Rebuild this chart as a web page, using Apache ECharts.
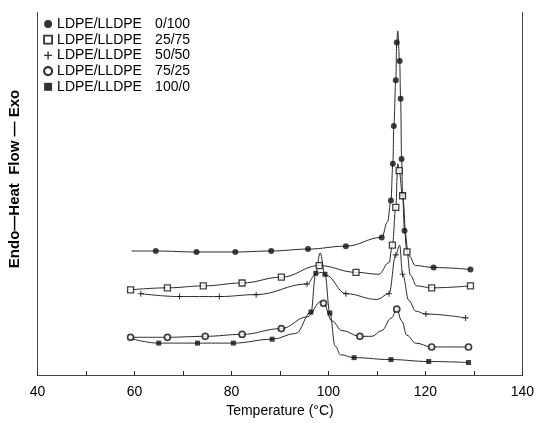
<!DOCTYPE html>
<html><head><meta charset="utf-8">
<script src="https://cdn.jsdelivr.net/npm/echarts@6/dist/echarts.min.js"></script>
<style>html,body{margin:0;padding:0;background:#fff}#c{width:537px;height:423px}</style>
</head><body><div id="c"></div>
<script>
// Legend / series labels
const prefix = 'LDPE/LLDPE';
const ratios = ['0/100', '25/75', '50/50', '75/25', '100/0'];
// Curves: [temperature °C, heat flow (arb. units), marker flag]
const curve_0_100 = [[59.4,128,0],[64.4,128,1],[72.8,127,1],[80.8,127,1],[88.2,128,1],[95.8,130,1],[103.6,133,1],[111.0,142,1],[112.2,158,0],[112.9,180,1],[113.3,218,1],[113.5,257,1],[113.9,304,1],[114.1,343,1],[114.3,355,0],[114.7,324,1],[114.9,285,1],[115.1,223,1],[115.3,186,1],[115.7,149,1],[116.6,123,0],[118.0,113,0],[121.7,111,1],[129.3,109,1]];
const curve_25_75 = [[59.2,88,1],[66.8,90,1],[74.2,92,1],[82.2,95,1],[90.3,101,1],[98.1,113,1],[105.7,106,1],[110.4,104,0],[112.5,116,0],[113.2,134,1],[113.9,173,1],[114.3,218,0],[114.6,211,1],[115.3,185,1],[116.2,127,1],[116.9,103,0],[118.2,92,0],[121.3,90,1],[129.3,92,1]];
const curve_50_50 = [[61.3,84,1],[69.3,81,1],[77.5,81,1],[85.1,83,1],[95.6,94,1],[97.4,104,0],[98.5,106,0],[99.5,103,0],[103.6,84,1],[110.0,78,0],[112.5,84,1],[113.9,124,1],[114.7,134,0],[115.3,104,1],[116.6,77,0],[118.0,66,0],[120.1,63,1],[128.3,59,1]];
const curve_75_25 = [[59.2,39,1],[66.8,39,1],[74.6,40,1],[82.2,42,1],[90.3,48,1],[95.6,60,0],[98.5,76,0],[99.0,74,1],[100.7,56,0],[102.8,46,0],[106.5,40,1],[109.0,40,0],[111.0,46,0],[113.0,59,0],[114.1,68,1],[115.1,56,0],[116.2,41,0],[118.0,33,0],[121.3,29,1],[128.9,29,1]];
const curve_100_0 = [[59.0,38,0],[65.0,33,1],[73.0,33,1],[80.4,33,1],[88.4,37,1],[93.3,43,0],[96.4,65,1],[97.4,105,1],[98.3,126,0],[99.3,104,1],[100.3,64,1],[101.4,30,0],[102.5,21,0],[105.3,18,1],[112.9,16,1],[120.7,14,1],[128.9,13,1]];
const xTickLabels = [40, 60, 80, 100, 120, 140];

const curves = [curve_0_100, curve_25_75, curve_50_50, curve_75_25, curve_100_0];
const plusPath = 'path://M3.3,0h1.4v3.3h3.3v1.4h-3.3v3.3h-1.4v-3.3h-3.3v-1.4h3.3z';
const markerStyles = [
  {symbol:'circle', size:6, item:{color:'#111', borderWidth:0}},
  {symbol:'rect', size:6, item:{color:'#fff', borderColor:'#111', borderWidth:1.3}},
  {symbol:plusPath, size:6, item:{color:'#111', borderWidth:0}},
  {symbol:'circle', size:6, item:{color:'#fff', borderColor:'#111', borderWidth:1.7}},
  {symbol:'rect', size:5, item:{color:'#111', borderWidth:0}}
];
const legendStyles = [
  {icon:'circle', itemStyle:{color:'#000', borderWidth:0}},
  {icon:'rect', itemStyle:{color:'#fff', borderColor:'#000', borderWidth:1.8}},
  {icon:plusPath, itemStyle:{color:'#000', borderWidth:0}},
  {icon:'circle', itemStyle:{color:'#fff', borderColor:'#000', borderWidth:2.2}},
  {icon:'rect', itemStyle:{color:'#000', borderWidth:0}}
];

const names = ratios.map(r => prefix + ' ' + r);
const series = [];
curves.forEach((c, i) => {
  series.push({
    type:'line', name:'curve' + i, data:c.map(p => [p[0], p[1]]),
    smooth:0.4, smoothMonotone:'x', showSymbol:false, symbol:'none',
    lineStyle:{color:'#2a2a2a', width:1}, silent:true, z:2
  });
});
curves.forEach((c, i) => {
  const m = markerStyles[i];
  series.push({
    type:'scatter', name:names[i], data:c.filter(p => p[2] === 1).map(p => [p[0], p[1]]),
    symbol:m.symbol, symbolSize:m.size, itemStyle:m.item, z:3, silent:true
  });
});

const chart = echarts.init(document.getElementById('c'), null, {renderer:'canvas'});
chart.setOption({
  animation:false,
  backgroundColor:'#fff',
  textStyle:{fontFamily:'Liberation Sans, Arial, sans-serif'},
  grid:{left:37.5, right:13, top:12.5, bottom:37},
  legend:{
    orient:'vertical', left:43, top:17, padding:0, itemWidth:8, itemHeight:8, itemGap:1.7,
    itemTextGap:6, selectedMode:false,
    data:names.map((n, i) => Object.assign({name:n}, legendStyles[i])),
    formatter: n => '{a|' + prefix + '}{b|' + n.slice(prefix.length + 1) + '}',
    textStyle:{fontSize:14, color:'#000', lineHeight:14,
      rich:{a:{width:98, fontSize:14, color:'#000'}, b:{fontSize:14, color:'#000'}}}
  },
  xAxis:[{
    type:'value', min:40, max:140, interval:10, position:'bottom',
    name:'Temperature (°C)', nameLocation:'middle', nameGap:25,
    nameTextStyle:{fontSize:14, color:'#000'},
    axisLine:{lineStyle:{color:'#222', width:1}},
    axisTick:{inside:true, length:4, lineStyle:{color:'#222'}},
    axisLabel:{fontSize:14, color:'#000', margin:10,
      formatter: v => xTickLabels.indexOf(v) >= 0 ? String(v) : ''},
    splitLine:{show:false}
  },{
    type:'value', min:40, max:140, position:'top',
    axisLine:{lineStyle:{color:'#444', width:1}}, axisTick:{show:false}, axisLabel:{show:false}, splitLine:{show:false}
  }],
  yAxis:[{
    type:'value', min:0, max:374, position:'left',
    axisLine:{show:true, lineStyle:{color:'#444', width:1}}, axisTick:{show:false}, axisLabel:{show:false}, splitLine:{show:false}
  },{
    type:'value', min:0, max:374, position:'right',
    axisLine:{show:true, lineStyle:{color:'#444', width:1}}, axisTick:{show:false}, axisLabel:{show:false}, splitLine:{show:false}
  }],
  graphic:[{
    type:'text', x:15, y:179, rotation:Math.PI/2,
    style:{text:'Endo—Heat  Flow — Exo', fontSize:15, fontWeight:'bold', fill:'#000',
      fontFamily:'Liberation Sans, Arial, sans-serif', align:'center', verticalAlign:'middle'}
  }],
  series:series
});
</script>
</body></html>
